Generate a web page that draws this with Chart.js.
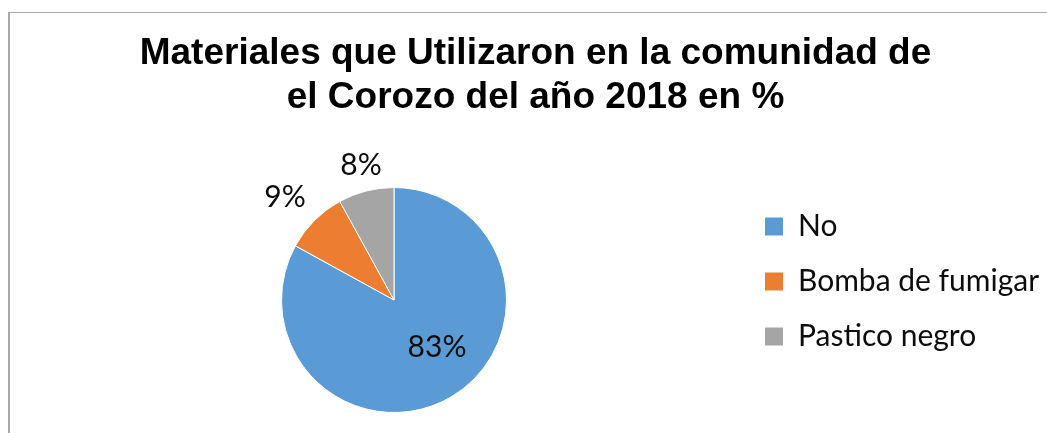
<!DOCTYPE html>
<html>
<head>
<meta charset="utf-8">
<script src="https://cdn.jsdelivr.net/npm/chart.js@4.4.1/dist/chart.umd.min.js"></script>
<style>
  html, body { margin: 0; background: #fff; overflow: hidden; }
  #frame {
    position: absolute; left: 8px; top: 12px; width: 1050px; height: 430px;
    border-left: 2px solid #ababab; border-top: 1px solid #ababab;
  }
  #wrap { position: absolute; left: 10px; top: 13px; width: 1037px; height: 420px; }
</style>
</head>
<body>
<div id="frame"></div>
<div id="wrap"><canvas id="pieChart"></canvas></div>
<script>
// chart data
const categories = ['No', 'Bomba de fumigar', 'Pastico negro'];
const percentages = [83, 9, 8];
const sliceColors = ['#5b9bd5', '#ed7d31', '#a5a5a5'];
const titleLines = ['Materiales que Utilizaron en la comunidad de', 'el Corozo del año 2018 en %'];

// where each % label sits: fraction of the radius, and a small turn in degrees
const labelRadius = [0.566, 1.333, 1.236];
const labelTurn = [-11.9, -1.6, 0.7];

const pieLabels = {
    id: 'pieLabels',
    afterDatasetsDraw(chart) {
        const ctx = chart.ctx;
        const meta = chart.getDatasetMeta(0);
        ctx.save();
        ctx.font = '30px Lato, sans-serif';
        ctx.fillStyle = '#0d0d0d';
        ctx.textAlign = 'center';
        ctx.textBaseline = 'middle';
        meta.data.forEach((arc, i) => {
            const p = arc.getProps(['x', 'y', 'startAngle', 'endAngle', 'outerRadius'], true);
            const a = (p.startAngle + p.endAngle) / 2 + labelTurn[i] * Math.PI / 180;
            const r = p.outerRadius * labelRadius[i];
            ctx.fillText(percentages[i] + '%', p.x + Math.cos(a) * r, p.y + Math.sin(a) * r);
        });
        ctx.restore();
    }
};

function drawChart() {
    new Chart(document.getElementById('pieChart'), {
        type: 'pie',
        data: {
            labels: categories,
            datasets: [{
                data: percentages,
                backgroundColor: sliceColors,
                borderColor: '#ffffff',
                borderWidth: 1
            }]
        },
        options: {
            responsive: true,
            maintainAspectRatio: false,
            animation: false,
            layout: { padding: { left: 22, right: 8, top: 0, bottom: 20 } },
            plugins: {
                tooltip: { enabled: false },
                title: {
                    display: true,
                    text: titleLines,
                    color: '#000000',
                    font: { family: '"Liberation Sans", Arial, sans-serif', size: 37, weight: 'bold', lineHeight: '44px' },
                    padding: { top: 19, bottom: 67 }
                },
                legend: {
                    position: 'right',
                    align: 'start',
                    fullSize: false,
                    maxWidth: 283,
                    title: { display: true, text: '', font: { size: 1, lineHeight: '1px' }, padding: { top: 14.5, bottom: 0 } },
                    labels: {
                        boxWidth: 18,
                        boxHeight: 18,
                        padding: 9,
                        color: '#0d0d0d',
                        font: { family: 'Lato, sans-serif', size: 30, lineHeight: '46px' },
                        generateLabels: chart => Chart.overrides.pie.plugins.legend.labels.generateLabels(chart)
                            .map(item => ({ ...item, text: [item.text], lineWidth: 0 }))
                    }
                }
            }
        },
        plugins: [pieLabels]
    });
}

Promise.all([
    document.fonts.load('30px Lato'),
    document.fonts.load('bold 37px "Liberation Sans"')
]).then(drawChart, drawChart);
</script>
</body>
</html>
